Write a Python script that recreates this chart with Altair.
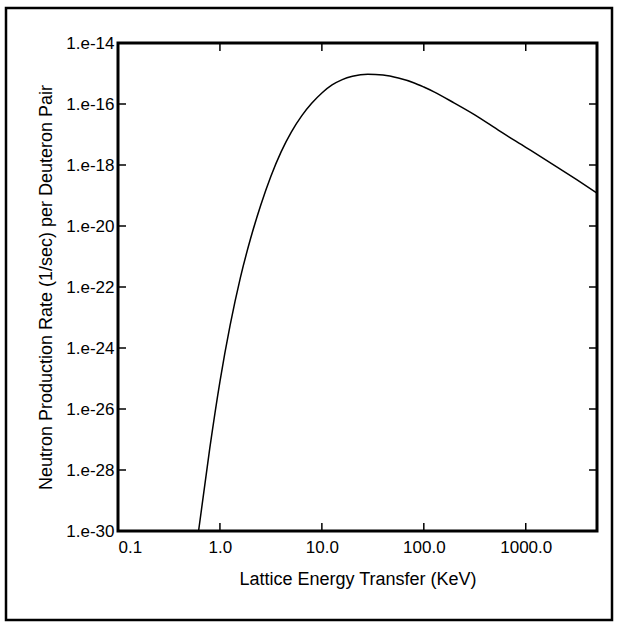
import altair as alt
import pandas as pd

# Values
energy_kev = [0.617, 0.794, 1.0, 1.259, 1.585, 1.995, 2.512, 3.162, 3.981, 5.012,
              6.310, 7.943, 10.0, 12.59, 15.85, 19.95, 28.18, 39.81, 56.23, 79.43,
              100.0, 125.9, 199.5, 316.2, 562.3, 1000.0, 1995.0, 3162.0, 5000.0]
rate = [1.0e-30, 5.0e-28, 7.9e-26, 5.6e-24, 2.0e-22, 3.8e-21, 4.8e-20, 4.3e-19,
        2.7e-18, 1.2e-17, 4.0e-17, 1.05e-16, 2.3e-16, 4.2e-16, 6.3e-16, 8.1e-16,
        9.5e-16, 8.9e-16, 7.1e-16, 5.0e-16, 3.6e-16, 2.5e-16, 1.07e-16, 4.4e-17,
        1.26e-17, 3.8e-18, 8.9e-19, 3.3e-19, 1.2e-19]
x_ticks = [0.1, 1.0, 10.0, 100.0, 1000.0]
y_ticks = [1e-14, 1e-16, 1e-18, 1e-20, 1e-22, 1e-24, 1e-26, 1e-28, 1e-30]
x_domain = [0.1, 5000.0]
y_domain = [1e-30, 1e-14]

W, H = 479, 488
FONT = "Liberation Sans"

xs = alt.Scale(type="log", domain=x_domain, nice=False)
ys = alt.Scale(type="log", domain=y_domain, nice=False)

x_axis = alt.Axis(values=x_ticks, format=".1f", title="Lattice Energy Transfer (KeV)",
                  labelPadding=8, titlePadding=15, labelFontSize=17, titleFontSize=18)
y_axis = alt.Axis(values=y_ticks,
                  labelExpr="'1.e' + round(log(datum.value)/LN10)",
                  title="Neutron Production Rate (1/sec) per Deuteron Pair",
                  labelPadding=4, titlePadding=10, labelFontSize=17, titleFontSize=18)

curve = pd.DataFrame({"e": energy_kev, "r": rate})
xt = pd.DataFrame({"e": x_ticks})
yt = pd.DataFrame({"r": y_ticks})
one = pd.DataFrame({"a": [0]})

line = alt.Chart(curve).mark_line(color="black", strokeWidth=1.5,
                                  interpolate="monotone", clip=True).encode(
    x=alt.X("e:Q", scale=xs, axis=x_axis),
    y=alt.Y("r:Q", scale=ys, axis=y_axis),
)

xt_bottom = alt.Chart(xt).mark_rule(color="black", strokeWidth=1.5).encode(
    x=alt.X("e:Q", scale=xs, axis=x_axis), y=alt.value(H), y2=alt.value(H - 8))
xt_top = alt.Chart(xt).mark_rule(color="black", strokeWidth=1.5).encode(
    x=alt.X("e:Q", scale=xs, axis=x_axis), y=alt.value(0), y2=alt.value(8))
yt_left = alt.Chart(yt).mark_rule(color="black", strokeWidth=1.5).encode(
    y=alt.Y("r:Q", scale=ys, axis=y_axis), x=alt.value(0), x2=alt.value(8))
yt_right = alt.Chart(yt).mark_rule(color="black", strokeWidth=1.5).encode(
    y=alt.Y("r:Q", scale=ys, axis=y_axis), x=alt.value(W), x2=alt.value(W - 8))

frame = alt.Chart(one).mark_rect(filled=False, stroke="black", strokeWidth=2.5).encode(
    x=alt.value(-112), x2=alt.value(494), y=alt.value(-35), y2=alt.value(577))

chart = alt.layer(line, xt_bottom, xt_top, yt_left, yt_right, frame).properties(
    width=W, height=H,
    autosize=alt.AutoSizeParams(type="none"),
    padding={"left": 118, "top": 43, "right": 22, "bottom": 95},
    background="white",
).configure_view(stroke="black", strokeWidth=3).configure_axis(
    labelFont=FONT, titleFont=FONT,
    titleFontWeight="normal", labelColor="black", titleColor="black",
    grid=False, domain=False, ticks=False, tickSize=0,
)

chart.save("out.html", embed_options={"renderer": "svg", "actions": False})
